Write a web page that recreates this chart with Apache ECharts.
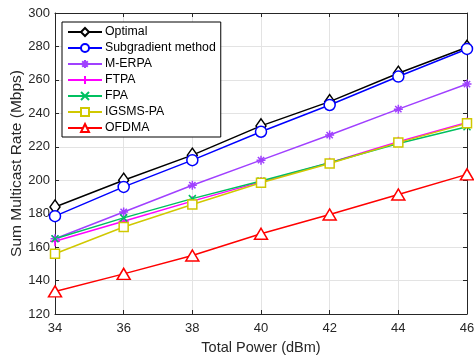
<!DOCTYPE html>
<html>
<head>
<meta charset="utf-8">
<script src="https://cdn.jsdelivr.net/npm/echarts@6/dist/echarts.min.js"></script>
<style>
  html, body { margin: 0; padding: 0; background: #fff; }
  #chart { width: 474px; height: 356px; }
</style>
</head>
<body>
<div id="chart"></div>
<script>
// Total power (dBm)
const powers = [34, 36, 38, 40, 42, 44, 46]

// Sum multicast rate (Mbps)
const optimal = [184, 200, 215, 232.5, 247, 264, 279.5]
const subgradient = [178.5, 196, 212, 229, 245, 262, 278.5]
const mErpa = [165, 181, 197, 212, 227, 242.5, 257.5]
const ftpa = [163.5, 175.5, 187.5, 199, 210.5, 223, 234.5]
const fpa = [165, 177.5, 189, 199.5, 210.5, 222, 232]
const igsms = [156, 172, 185.5, 198.5, 210, 222.5, 234]
const ofdma = [133.5, 144, 155, 168, 179.5, 191.5, 203.5]

const chart = echarts.init(document.getElementById('chart'))

const font = 'Liberation Sans, Arial, sans-serif'
const plusPath = 'path://M0,-10 L0,10 M-10,0 L10,0'
const crossPath = 'path://M-10,-10 L10,10 M-10,10 L10,-10'
const starPath = 'path://M0,-10 L0,10 M-10,0 L10,0 M-7,-7 L7,7 M-7,7 L7,-7'

const pairs = arr => arr.map((v, i) => [powers[i], v])

// helper for a MATLAB-ish line series
const makeSeries = (name, values, color, symbol, size, hollow) => ({
  name,
  type: 'line',
  data: pairs(values),
  symbol,
  symbolSize: size,
  showSymbol: true,
  lineStyle: { color, width: 1.5 },
  itemStyle: {
    color: hollow ? '#fff' : color,
    borderColor: color,
    borderWidth: 1.5
  },
  emphasis: { disabled: true },
  z: 3
})

const tickColor = '#262626'

const option = {
  animation: false,
  textStyle: { fontFamily: font },
  grid: { left: 55, right: 7, top: 13, bottom: 42, outerBoundsMode: 'none', containLabel: false },
  legend: {
    orient: 'vertical',
    left: 62,
    top: 22,
    itemWidth: 34,
    itemHeight: 10,
    itemGap: 4,
    padding: [4, 5, 3, 5],
    backgroundColor: '#fff',
    borderColor: '#000',
    borderWidth: 1,
    textStyle: { fontSize: 12.3, color: '#000', fontFamily: font, padding: [0, 0, 0, -2] },
    data: ['Optimal', 'Subgradient method', 'M-ERPA', 'FTPA', 'FPA', 'IGSMS-PA', 'OFDMA']
  },
  xAxis: [
    {
      type: 'value',
      min: 34,
      max: 46,
      interval: 2,
      name: 'Total Power (dBm)',
      nameLocation: 'middle',
      nameGap: 26,
      nameMoveOverlap: false,
      nameTextStyle: { fontSize: 14.5, color: tickColor },
      axisLine: { lineStyle: { color: tickColor } },
      axisTick: { inside: true, length: 4, lineStyle: { color: tickColor } },
      axisLabel: { fontSize: 13, color: tickColor, margin: 8 },
      splitLine: { show: true, lineStyle: { color: '#e3e3e3' } }
    },
    {
      type: 'value',
      position: 'top',
      min: 34,
      max: 46,
      interval: 2,
      axisLine: { show: true, lineStyle: { color: tickColor } },
      axisTick: { show: true, inside: true, length: 4, lineStyle: { color: tickColor } },
      axisLabel: { show: false },
      splitLine: { show: false }
    }
  ],
  yAxis: [
    {
      type: 'value',
      min: 120,
      max: 300,
      interval: 20,
      name: 'Sum Multicast Rate (Mbps)',
      nameLocation: 'middle',
      nameGap: 30,
      nameMoveOverlap: false,
      nameTextStyle: { fontSize: 15.5, color: tickColor },
      axisLine: { show: true, lineStyle: { color: tickColor } },
      axisTick: { show: true, inside: true, length: 4, lineStyle: { color: tickColor } },
      axisLabel: { fontSize: 13, color: tickColor, margin: 5 },
      splitLine: { show: true, lineStyle: { color: '#e3e3e3' } }
    },
    {
      type: 'value',
      position: 'right',
      min: 120,
      max: 300,
      interval: 20,
      axisLine: { show: true, lineStyle: { color: tickColor } },
      axisTick: { show: true, inside: true, length: 4, lineStyle: { color: tickColor } },
      axisLabel: { show: false },
      splitLine: { show: false }
    }
  ],
  series: [
    makeSeries('Optimal', optimal, '#000000', 'diamond', [10, 14], true),
    makeSeries('Subgradient method', subgradient, '#0000ff', 'circle', 11, true),
    makeSeries('M-ERPA', mErpa, '#a040ff', starPath, 9, false),
    makeSeries('FTPA', ftpa, '#ff00ff', plusPath, 10, false),
    makeSeries('FPA', fpa, '#00c060', crossPath, 7, false),
    makeSeries('IGSMS-PA', igsms, '#d0c800', 'rect', 9, true),
    makeSeries('OFDMA', ofdma, '#ff0000', 'triangle', [13, 11], true)
  ]
}

chart.setOption(option)
</script>
</body>
</html>
